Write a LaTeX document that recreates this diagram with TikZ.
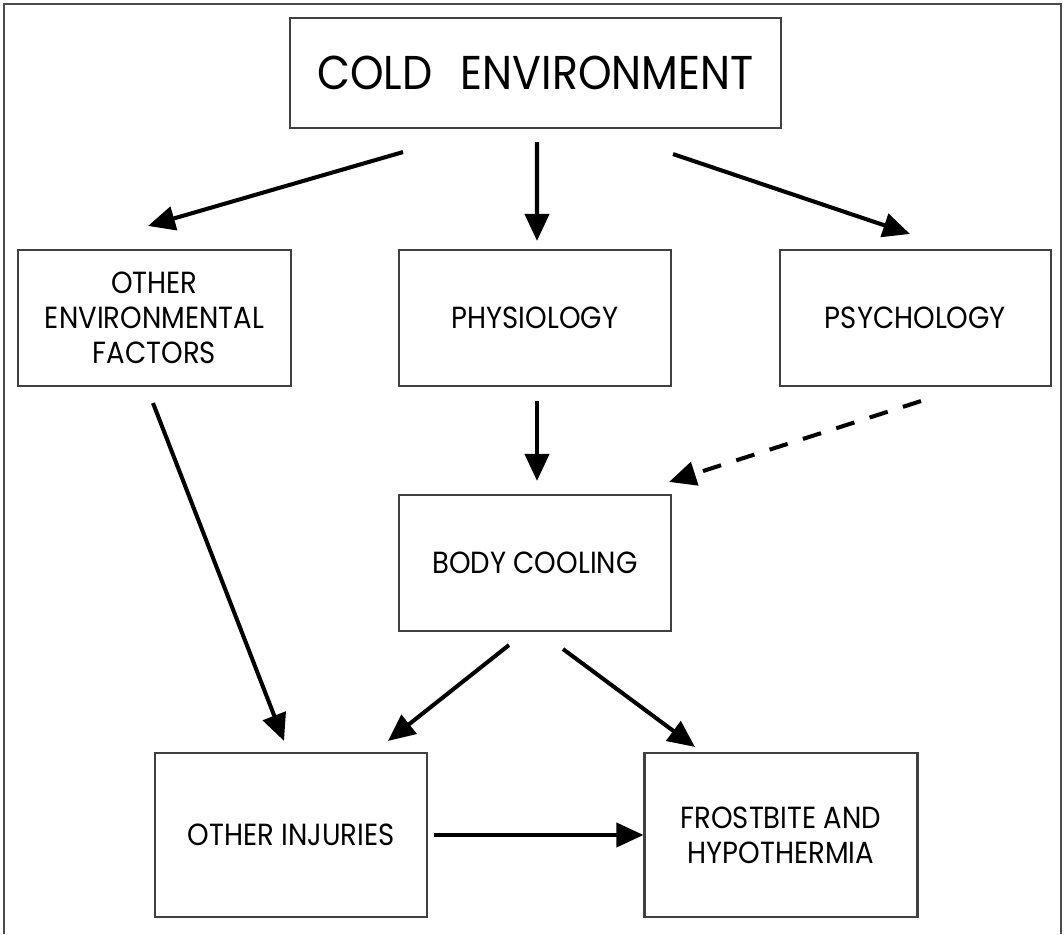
\documentclass[tikz,border=0pt]{standalone}
\usepackage{fontspec}
\setmainfont{Poppins}[FakeStretch=0.9]
\usetikzlibrary{arrows.meta}

\begin{document}
\begin{tikzpicture}[
        box/.style={draw=black!75, line width=0.6pt, rectangle, align=center,
            minimum width=2.72cm, minimum height=1.36cm, inner sep=0pt,
            font=\fontsize{8.7}{9.96}\selectfont},
        arrow/.style={line width=1.15pt, -{Triangle[length=0.27cm, width=0.24cm]}},
        hint/.style={arrow, dash pattern=on 0.19cm off 0.16cm}
    ]
        \useasboundingbox (0,0) rectangle (10.64,9.34);

        % Outer frame (bottom edge lies below the picture)
        \draw[black!70, line width=0.6pt] (0.04,0) -- (0.04,9.30) -- (10.61,9.30) -- (10.61,0);

        % Top node
        \node[box, minimum width=4.91cm, minimum height=1.10cm, font=\fontsize{13.5}{15}\selectfont] (cold) at (5.355,8.61) {COLD\hspace{0.6em}ENVIRONMENT};

        % Second row
        \node[box, minimum width=2.73cm] (env) at (1.545,6.16) {OTHER\\ENVIRONMENTAL\\FACTORS};
        \node[box] (phys) at (5.35,6.16) {PHYSIOLOGY};
        \node[box, minimum width=2.71cm] (psych) at (9.155,6.16) {PSYCHOLOGY};

        % Middle node
        \node[box] (cool) at (5.35,3.71) {BODY COOLING};

        % Bottom row
        \node[box, minimum height=1.64cm] (inj) at (2.91,0.99) {OTHER INJURIES};
        \node[box, minimum width=2.73cm, minimum height=1.64cm] (frost) at (7.81,0.99) {FROSTBITE AND\\HYPOTHERMIA};

        % Connections from the cold environment
        \draw[arrow] ([xshift=-1.325cm, yshift=-0.23cm]cold.south) -- ([xshift=-0.065cm, yshift=0.23cm]env.north);
        \draw[arrow] ([xshift=0.015cm, yshift=-0.13cm]cold.south) -- ([xshift=0.02cm, yshift=0.08cm]phys.north);
        \draw[arrow] ([xshift=1.375cm, yshift=-0.25cm]cold.south) -- ([xshift=-0.055cm, yshift=0.15cm]psych.north);

        % Into body cooling
        \draw[arrow] ([xshift=0.02cm, yshift=-0.14cm]phys.south) -- ([xshift=0.02cm, yshift=0.13cm]cool.north);
        \draw[hint] ([xshift=0.055cm, yshift=-0.14cm]psych.south) -- ([xshift=-0.03cm, yshift=0.12cm]cool.north east);

        % Into the injuries
        \draw[arrow] ([xshift=-0.015cm, yshift=-0.16cm]env.south) -- ([xshift=-0.07cm, yshift=0.11cm]inj.north);
        \draw[arrow] ([xshift=-0.26cm, yshift=-0.13cm]cool.south) -- ([xshift=0.97cm, yshift=0.11cm]inj.north);
        \draw[arrow] ([xshift=0.28cm, yshift=-0.17cm]cool.south) -- ([xshift=-0.86cm, yshift=0.05cm]frost.north);
        \draw[arrow, shorten <=0.06cm] (inj) -- (frost);

    \end{tikzpicture}
\end{document}
